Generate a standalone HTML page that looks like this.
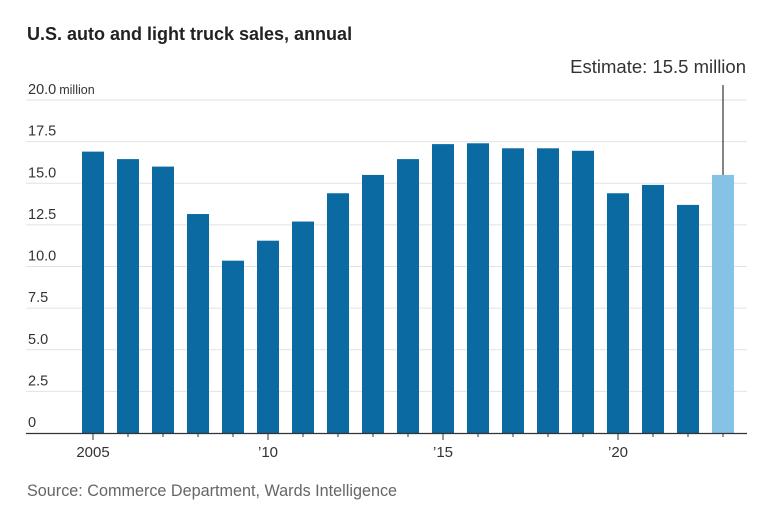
<!DOCTYPE html>
<html><head><meta charset="utf-8"><style>
html,body{margin:0;padding:0;background:#fff;}
svg{display:block;font-family:"Liberation Sans",sans-serif;}
</style></head><body>
<svg id="chart" width="776" height="521">
<text x="27" y="40" font-size="18" font-weight="bold" fill="#222">U.S. auto and light truck sales, annual</text>
<g id="grid"></g><g id="bars"></g><g id="xaxis"></g>
<text x="746" y="73" font-size="18.5" fill="#333" text-anchor="end">Estimate: 15.5 million</text>
<text x="27" y="496" font-size="16.2" fill="#666">Source: Commerce Department, Wards Intelligence</text>
</svg>
<script>
const years=[2005,2006,2007,2008,2009,2010,2011,2012,2013,2014,2015,2016,2017,2018,2019,2020,2021,2022,2023];
const sales=[16.9,16.45,16.0,13.15,10.35,11.55,12.7,14.4,15.5,16.45,17.35,17.4,17.1,17.1,16.95,14.4,14.9,13.7,15.5];
const yTicks=[0,2.5,5,7.5,10,12.5,15,17.5,20];
const yTickLabels=["0","2.5","5.0","7.5","10.0","12.5","15.0","17.5","20.0"];
const xLabelYears=[2005,2010,2015,2020];
const xLabels=["2005","\u201910","\u201915","\u201920"];
const NS="http://www.w3.org/2000/svg";
const y=v=>433-v*16.65;
const x=yr=>93+(yr-2005)*35;
function mk(tag,attrs,parent,text){const e=document.createElementNS(NS,tag);for(const k in attrs)e.setAttribute(k,attrs[k]);if(text!==undefined)e.textContent=text;parent.appendChild(e);return e;}
const grid=document.getElementById('grid'),bars=document.getElementById('bars'),xa=document.getElementById('xaxis');
yTicks.forEach((t,i)=>{
 if(t>0){const l=mk('line',{x1:26,x2:747,y1:y(t),y2:y(t),stroke:'#e2e2e2','stroke-width':1},grid);
 
 }
 const tx=mk('text',{x:28,y:y(t)-6,'font-size':14.5,fill:'#333'},grid,yTickLabels[i]);
 
 
 if(t===20){mk('tspan',{'font-size':12.5,dx:3},tx,'million');}
});
years.forEach((yr,i)=>{
 const r=mk('rect',{x:x(yr)-11,y:y(sales[i]),width:22,height:y(0)-y(sales[i]),fill:yr===2023?'#86c2e6':'#0a6aa1'},bars);
 
 
 const tk=mk('line',{x1:x(yr),x2:x(yr),y1:433,y2:xLabelYears.includes(yr)?440:437,stroke:'#333'},xa);
 
 
});
const ax=mk('line',{x1:26,x2:747,y1:433.5,y2:433.5,stroke:'#333','stroke-width':1.3},xa);


xLabelYears.forEach((yr,i)=>{
 const t=mk('text',{x:x(yr),y:457,'font-size':15,fill:'#333','text-anchor':'middle'},xa,xLabels[i]);
 
 
});
const last=years.length-1;
const lead=mk('line',{x1:x(years[last]),x2:x(years[last]),y1:85,y2:y(sales[last]),stroke:'#333','stroke-width':1.2},xa);


</script>
</body></html>
